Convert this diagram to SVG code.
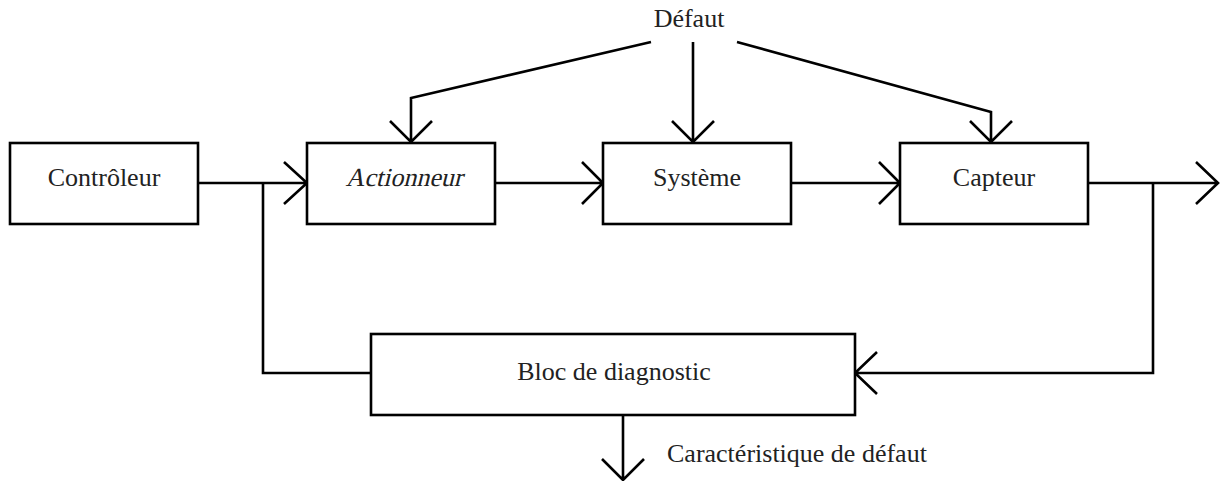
<svg xmlns="http://www.w3.org/2000/svg" width="1220" height="481" viewBox="0 0 1220 481">
<style>
.box{fill:#fff;stroke:#000;stroke-width:2.6}
.ln{fill:none;stroke:#000;stroke-width:2.6;stroke-linejoin:miter}
.t{font-family:"Liberation Serif","DejaVu Serif",serif;font-size:26px;fill:#222;text-anchor:middle}
</style>
<rect width="1220" height="481" fill="#fff"/>
<g id="connectors">
<path class="ln" d="M198,183H307M284,162L307,183L284,204"/>
<path class="ln" d="M263,183V373H371"/>
<path class="ln" d="M495,183H603M582,162L603,183L582,204"/>
<path class="ln" d="M791,183H900M879,162L900,183L879,204"/>
<path class="ln" d="M1088,183H1218M1196,162L1218,183L1196,204"/>
<path class="ln" d="M1153,183V373H855M877,352L855,373L877,394"/>
<path class="ln" d="M623,415V480M602,459L623,480L644,459"/>
<path class="ln" d="M651,42L411,98V142M390,121L411,142L432,121"/>
<path class="ln" d="M693,42V142M672,121L693,142L714,121"/>
<path class="ln" d="M737,42L991,112V142M970,121L991,142L1012,121"/>
</g>
<g id="defaut"><text class="t" x="689" y="27">Défaut</text></g>
<g id="controleur"><rect class="box" x="10" y="143" width="188" height="81"/><text class="t" x="104" y="186">Contrôleur</text></g>
<g id="actionneur"><rect class="box" x="307" y="143" width="188" height="81"/><text class="t" x="0" y="0" transform="translate(404,186) skewX(-14)">Actionneur</text></g>
<g id="systeme"><rect class="box" x="603" y="143" width="188" height="81"/><text class="t" x="697" y="186">Système</text></g>
<g id="capteur"><rect class="box" x="900" y="143" width="188" height="81"/><text class="t" x="994" y="186">Capteur</text></g>
<g id="bloc"><rect class="box" x="371" y="334" width="484" height="81"/><text class="t" x="614" y="380">Bloc de diagnostic</text></g>
<g id="caracteristique"><text class="t" x="667" y="462" style="text-anchor:start">Caractéristique de défaut</text></g>
</svg>
